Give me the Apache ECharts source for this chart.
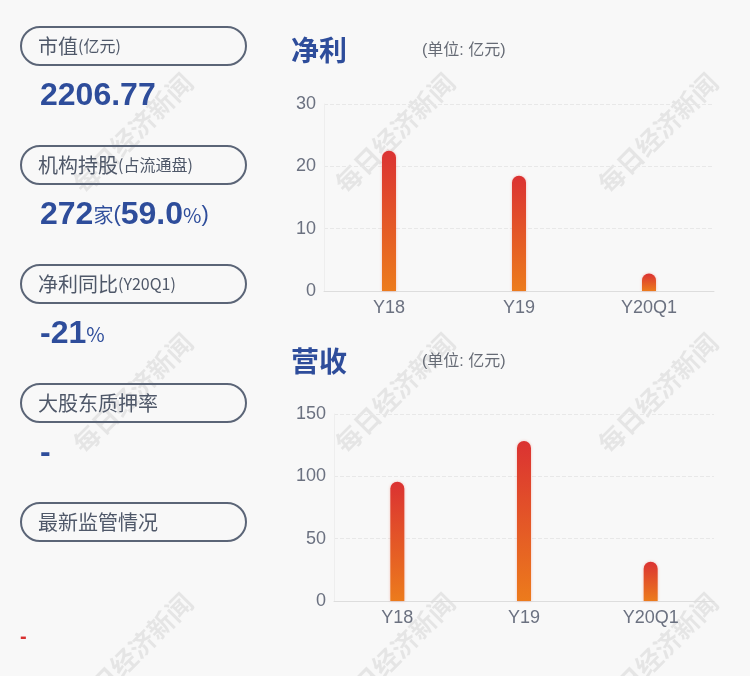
<!DOCTYPE html>
<html>
<head>
<meta charset="utf-8">
<script src="https://cdn.jsdelivr.net/npm/echarts@6/dist/echarts.min.js"></script>
<style>
html,body{margin:0;padding:0;background:#f8f8f8;}
#c{width:750px;height:676px;}
</style>
</head>
<body>
<div id="c"></div>
<script>
const categories = ['Y18', 'Y19', 'Y20Q1'];
const profitValues = [22.5, 18.5, 2.8];
const revenueValues = [95.7, 128.3, 31.5];
const profitAxis = { min: 0, max: 30, interval: 10 };
const revenueAxis = { min: 0, max: 150, interval: 50 };
const boxLabels = [
  ['市值', '(亿元)'],
  ['机构持股', '(占流通盘)'],
  ['净利同比', '(Y20Q1)'],
  ['大股东质押率', ''],
  ['最新监管情况', '']
];

const FONT = '"Noto Sans CJK SC", "Liberation Sans", sans-serif';
const LFONT = '"Liberation Sans", "Noto Sans CJK SC", sans-serif';
const BLUE = '#2e4d9b';
const GREY = '#4f5869';

const chart = echarts.init(document.getElementById('c'));

const barGradient = new echarts.graphic.LinearGradient(0, 0, 0, 1, [
  { offset: 0, color: '#db3232' },
  { offset: 1, color: '#ec7b1c' }
]);

const graphics = [];

// watermarks
[133, 395, 658].forEach(cx => {
  [133, 393, 653].forEach(cy => {
    graphics.push({
      type: 'text', x: cx, y: cy, rotation: Math.PI / 4, z: 0,
      style: {
        text: '每日经济新闻', font: 'bold 26px ' + FONT,
        fill: 'rgba(0,0,0,0.075)', align: 'center', verticalAlign: 'middle'
      }
    });
  });
});

// left boxes
boxLabels.forEach((lab, i) => {
  const top = 27 + i * 119;
  graphics.push({
    type: 'rect', z: 5,
    shape: { x: 21, y: top, width: 225, height: 38, r: 19 },
    style: { fill: 'none', stroke: '#5b6577', lineWidth: 2 }
  });
  graphics.push({
    type: 'text', z: 6, x: 38, y: top + 19,
    style: {
      text: '{a|' + lab[0] + '}' + (lab[1] ? '{b|' + lab[1] + '}' : ''),
      verticalAlign: 'middle',
      rich: {
        a: { fontSize: 20, fontFamily: FONT, fill: GREY, color: GREY },
        b: { fontSize: 16, fontFamily: FONT, fill: GREY, color: GREY }
      }
    }
  });
});

const valRich = {
  n: { fontSize: 32, fontWeight: 'bold', fontFamily: '"Liberation Sans", sans-serif', fill: BLUE, color: BLUE },
  u: { fontSize: 20, fontFamily: FONT, fill: BLUE, color: BLUE },
  p: { fontSize: 22, fontFamily: '"Liberation Sans", sans-serif', fill: BLUE, color: BLUE }
};
const values = [
  ['{n|2206.77}', 96],
  ['{n|272}{u|家}{p|(}{n|59.0}{u|%}{p|)}', 215],
  ['{n|-21}{u|%}', 334],
  ['{n|-}', 453]
];
values.forEach(v => {
  graphics.push({
    type: 'text', z: 6, x: 40, y: v[1],
    style: { text: v[0], verticalAlign: 'middle', rich: valRich }
  });
});
graphics.push({
  type: 'text', z: 6, x: 20, y: 637,
  style: { text: '-', font: 'bold 20px "Liberation Sans", sans-serif', fill: '#d83030', verticalAlign: 'middle' }
});

// chart titles
[['净利', 50], ['营收', 361]].forEach(t => {
  graphics.push({
    type: 'text', z: 6, x: 291, y: t[1],
    style: { text: t[0], font: 'bold 28px ' + FONT, fill: BLUE, verticalAlign: 'middle' }
  });
  graphics.push({
    type: 'text', z: 6, x: 422, y: t[1] + 1,
    style: { text: '(单位: 亿元)', font: '16px ' + LFONT, fill: '#666b75', verticalAlign: 'middle' }
  });
});

const axisLabelStyle = { color: '#6b7180', fontSize: 18, fontFamily: '"Liberation Sans", sans-serif' };

function xAx(idx) {
  return {
    type: 'category', gridIndex: idx, data: categories,
    axisLine: { lineStyle: { color: '#dddddd' } },
    axisTick: { show: false },
    axisLabel: Object.assign({ margin: 8 }, axisLabelStyle)
  };
}
function yAx(idx, cfg) {
  return {
    type: 'value', gridIndex: idx, min: cfg.min, max: cfg.max, interval: cfg.interval,
    axisLine: { show: true, lineStyle: { color: '#eeeeee' } },
    axisTick: { show: false },
    splitLine: { lineStyle: { color: '#e8e8e8', type: 'dashed' } },
    axisLabel: Object.assign({ margin: 8 }, axisLabelStyle)
  };
}
function barSeries(idx, data) {
  return {
    type: 'bar', xAxisIndex: idx, yAxisIndex: idx, data: data, barWidth: 14,
    itemStyle: {
      color: barGradient, borderRadius: [7, 7, 0, 0],
      shadowColor: 'rgba(230,80,60,0.35)', shadowBlur: 3
    },
    silent: true
  };
}

chart.setOption({
  backgroundColor: '#f8f8f8',
  animation: false,
  grid: [
    { left: 324, right: 36, top: 104, height: 187 },
    { left: 334, right: 36, top: 414, height: 187 }
  ],
  xAxis: [xAx(0), xAx(1)],
  yAxis: [yAx(0, profitAxis), yAx(1, revenueAxis)],
  series: [barSeries(0, profitValues), barSeries(1, revenueValues)],
  graphic: graphics
});
</script>
</body>
</html>
